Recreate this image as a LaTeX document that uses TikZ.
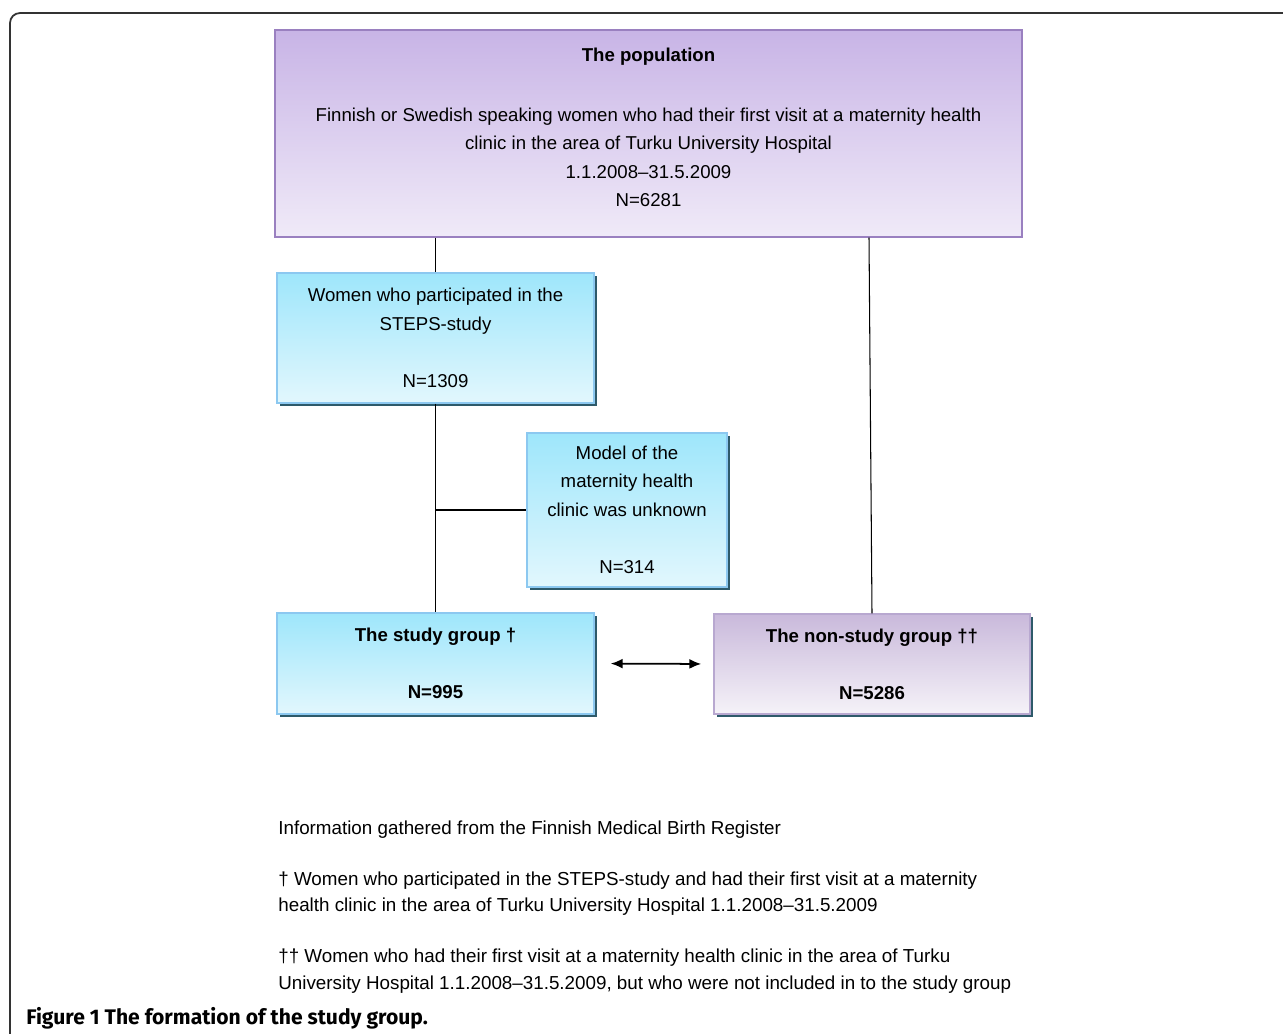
\documentclass[tikz,border=0pt]{standalone}
\usepackage{fontspec}
\setmainfont{Liberation Sans}
\newfontfamily\capfont{Fira Sans}
\usetikzlibrary{shadows,arrows.meta}
\definecolor{popline}{HTML}{9A80C0}
\definecolor{poptop}{HTML}{C8B4E6}
\definecolor{popbot}{HTML}{F0EAF8}
\definecolor{blueline}{HTML}{8CC8F0}
\definecolor{bluetop}{HTML}{9EE6FB}
\definecolor{bluebot}{HTML}{E2F7FD}
\definecolor{nonline}{HTML}{B8A8D0}
\definecolor{nontop}{HTML}{C9B9DB}
\definecolor{nonbot}{HTML}{F5F2F8}
\definecolor{boxshadow}{HTML}{2E5A6A}
\begin{document}
\begin{tikzpicture}[>={Latex[length=0.24cm,width=0.2cm]},
		txt/.style={font=\fontsize{10.6}{16.2}\selectfont},
		note/.style={font=\fontsize{10.7}{14.8}\selectfont, align=left, inner sep=0pt, anchor=north west},
		shade box/.style={txt, align=center, inner sep=0pt, line width=0.8pt},
		popbox/.style={shade box, draw=popline, top color=poptop, bottom color=popbot},
		bluebox/.style={shade box, draw=blueline, top color=bluetop, bottom color=bluebot,
			drop shadow={shadow xshift=0.05cm, shadow yshift=-0.06cm, fill=boxshadow, opacity=1}},
		nonbox/.style={shade box, draw=nonline, top color=nontop, bottom color=nonbot,
			drop shadow={shadow xshift=0.05cm, shadow yshift=-0.06cm, fill=boxshadow, opacity=1}},
		link/.style={line width=0.6pt}]
		\useasboundingbox (0,0) rectangle (25.66,-20.66);
		% frame round the figure
		\draw[black!80, line width=1pt, rounded corners=0.2cm] (26.2,-0.26) -- (0.2,-0.26) -- (0.2,-21.2);
		% boxes
		\node[popbox, minimum width=14.94cm, minimum height=4.14cm](P) at (12.97,-2.67)
			{\textbf{The population}\\[17.9pt]
			Finnish or Swedish speaking women who had their first visit at a maternity health\\
			clinic in the area of Turku University Hospital\\
			1.1.2008–31.5.2009\\
			N=6281\rule[-7.3pt]{0pt}{7.3pt}};
		\node[bluebox, minimum width=6.34cm, minimum height=2.6cm](S) at (8.71,-6.76)
			{Women who participated in the\\STEPS-study\\[16.2pt]N=1309};
		\node[bluebox, minimum width=4.0cm, minimum height=3.08cm](U) at (12.54,-10.2)
			{Model of the\\maternity health\\clinic was unknown\\[16.5pt]N=314};
		\node[bluebox, minimum width=6.34cm, minimum height=2.02cm](G) at (8.71,-13.27)
			{\textbf{The study group †}\\[16.2pt]\textbf{N=995}};
		\node[nonbox, minimum width=6.32cm, minimum height=2.0cm](NS) at (17.44,-13.28)
			{\textbf{The non-study group ††}\\[16.2pt]\textbf{N=5286}};
		% connectors
		\draw[link] (S.north |- P.south) -- (S.north);
		\draw[link] (S.south) -- (G.north);
		\draw[link] (U.west -| S.south) -- (U.west);
		\draw[link] ([xshift=-0.06cm]NS.north |- P.south) -- (NS.north);
		\draw[line width=1pt,<->, shorten <=0.32cm, shorten >=0.24cm] (G.east) -- (NS.west);
		% notes under the chart
		\node[note](I) at (5.56,-16.42) {Information gathered from the Finnish Medical Birth Register};
		\node[note](D1) at (5.56,-17.44) {† Women who participated in the STEPS-study and had their first visit at a maternity\\
			health clinic in the area of Turku University Hospital 1.1.2008–31.5.2009};
		\node[note](D2) at (5.56,-18.98) {†† Women who had their first visit at a maternity health clinic in the area of Turku\\
			University Hospital 1.1.2008–31.5.2009, but who were not included in to the study group};
		\node[anchor=base west, inner sep=0pt, font=\capfont\bfseries\fontsize{12}{14}\selectfont](C) at (0.52,-20.48)
			{Figure 1 The formation of the study group.};
\end{tikzpicture}
\end{document}
